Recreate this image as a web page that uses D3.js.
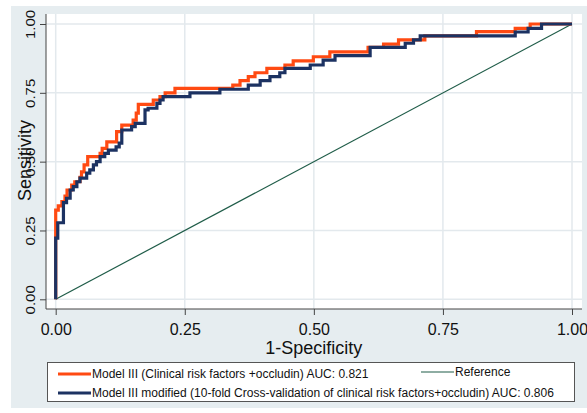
<!DOCTYPE html>
<html lang="en">
  <head>
    <meta charset="UTF-8" />
    <title>ROC curves</title>
    <script src="https://d3js.org/d3.v7.min.js"></script>
    <style>
      body {
        margin: 0;
        padding: 0;
        background-color: #ffffff;
        font-family: Arial, "Liberation Sans", sans-serif;
      }
    </style>
  </head>
  <body>
    <div id="chart"></div>
    <script>
      // -----------------------------
      // Data
      // -----------------------------
      const ticks = [0, 0.25, 0.5, 0.75, 1];

      // Model III: step tops (fpr, sensitivity)
      const orangeFpr = [0, 0, 0.005, 0.012, 0.018, 0.022, 0.031, 0.037, 0.047, 0.05, 0.055, 0.062, 0.086, 0.09, 0.099, 0.118, 0.128, 0.15, 0.156, 0.16, 0.189, 0.202, 0.212, 0.231, 0.343, 0.357, 0.373, 0.386, 0.409, 0.444, 0.46, 0.499, 0.531, 0.605, 0.635, 0.664, 0.715, 0.815, 0.89, 0.919, 1.0];
      const orangeSens = [0, 0.324, 0.339, 0.355, 0.375, 0.397, 0.415, 0.427, 0.443, 0.463, 0.488, 0.518, 0.53, 0.548, 0.572, 0.609, 0.633, 0.651, 0.676, 0.708, 0.724, 0.736, 0.75, 0.766, 0.778, 0.794, 0.809, 0.823, 0.839, 0.851, 0.866, 0.881, 0.899, 0.915, 0.927, 0.942, 0.957, 0.972, 0.984, 1.0, 1.0];

      // Model III modified (cross-validated)
      const navyFpr = [0, 0, 0.004, 0.015, 0.021, 0.028, 0.034, 0.041, 0.047, 0.06, 0.066, 0.073, 0.079, 0.086, 0.095, 0.102, 0.117, 0.123, 0.128, 0.147, 0.154, 0.173, 0.179, 0.196, 0.202, 0.208, 0.26, 0.318, 0.373, 0.396, 0.415, 0.434, 0.444, 0.493, 0.518, 0.541, 0.609, 0.677, 0.693, 0.706, 0.89, 0.915, 0.941, 1.0];
      const navySens = [0, 0.222, 0.278, 0.351, 0.367, 0.397, 0.409, 0.427, 0.44, 0.458, 0.47, 0.488, 0.5, 0.518, 0.53, 0.542, 0.554, 0.567, 0.615, 0.627, 0.639, 0.688, 0.694, 0.712, 0.724, 0.736, 0.75, 0.763, 0.778, 0.794, 0.809, 0.823, 0.839, 0.851, 0.869, 0.885, 0.915, 0.93, 0.942, 0.957, 0.971, 0.984, 1.0, 1.0];

      const refLine = [0, 1];

      const legendLabels = [
        "Model III (Clinical risk factors +occludin) AUC: 0.821",
        "Model III modified (10-fold Cross-validation of clinical risk factors+occludin) AUC: 0.806",
        "Reference",
      ];

      const orange = "#ff4a12";
      const navy = "#1c3262";
      const green = "#1f5c48";
      const panel = "#e6edf0";
      const grid = "#e3e9ed";

      // -----------------------------
      // SVG setup
      // -----------------------------
      const W = 587,
        H = 413;
      const svg = d3
        .select("#chart")
        .append("svg")
        .attr("width", W)
        .attr("height", H);

      // graph region + plot region
      svg.append("rect").attr("x", 11).attr("y", 6).attr("width", W - 11).attr("height", 402).attr("fill", panel);
      svg.append("rect").attr("x", 46).attr("y", 14).attr("width", 536).attr("height", 295).attr("fill", "#ffffff");

      const x = d3.scaleLinear().domain([0, 1]).range([55.7, 572]);
      const y = d3.scaleLinear().domain([0, 1]).range([299.3, 24]);

      // grid lines
      svg
        .append("g")
        .selectAll("line.vg")
        .data(ticks)
        .join("line")
        .attr("x1", (d) => x(d))
        .attr("x2", (d) => x(d))
        .attr("y1", 14)
        .attr("y2", 309)
        .attr("stroke", grid)
        .attr("stroke-width", 1.5);
      svg
        .append("g")
        .selectAll("line.hg")
        .data(ticks)
        .join("line")
        .attr("x1", 46)
        .attr("x2", 582)
        .attr("y1", (d) => y(d))
        .attr("y2", (d) => y(d))
        .attr("stroke", grid)
        .attr("stroke-width", 1.5);

      // axes
      const fmt = d3.format(".2f");
      const xAxis = svg
        .append("g")
        .attr("transform", "translate(0,309)")
        .call(d3.axisBottom(x).tickValues(ticks).tickFormat(fmt).tickSize(6).tickSizeOuter(0));
      xAxis.select(".domain").remove();
      xAxis.selectAll("line").attr("stroke", "#444");
      xAxis
        .selectAll("text")
        .attr("dy", null)
        .attr("y", 26)
        .attr("fill", "#111")
        .style("font-family", "Arial, 'Liberation Sans', sans-serif")
        .style("font-size", "16px");

      const yAxis = svg
        .append("g")
        .attr("transform", "translate(46,0)")
        .call(d3.axisLeft(y).tickValues(ticks).tickFormat(fmt).tickSize(6).tickSizeOuter(0));
      yAxis.select(".domain").remove();
      yAxis.selectAll("line").attr("stroke", "#444");
      yAxis
        .selectAll("text")
        .attr("x", null)
        .attr("dy", null)
        .attr("text-anchor", "middle")
        .attr("transform", "translate(-11,0) rotate(-90) scale(1,0.85)")
        .attr("fill", "#111")
        .style("font-family", "Arial, 'Liberation Sans', sans-serif")
        .style("font-size", "15px");

      svg.append("line").attr("x1", 46).attr("x2", 582).attr("y1", 309).attr("y2", 309).attr("stroke", "#444");
      svg.append("line").attr("x1", 46).attr("x2", 46).attr("y1", 14).attr("y2", 309).attr("stroke", "#444");

      // axis titles
      svg
        .append("text")
        .attr("x", (x(0) + x(1)) / 2)
        .attr("y", 354)
        .attr("text-anchor", "middle")
        .attr("fill", "#111")
        .style("font-size", "18px")
        .text("1-Specificity");
      svg
        .append("text")
        .attr("transform", "translate(30.5," + 160.5 + ") rotate(-90)")
        .attr("text-anchor", "middle")
        .attr("fill", "#111")
        .style("font-size", "18px")
        .text("Sensitivity");

      // -----------------------------
      // Curves
      // -----------------------------
      const plot = svg.append("g");

      plot
        .append("path")
        .datum(refLine)
        .attr("d", d3.line().x((d) => x(d)).y((d) => y(d)))
        .attr("fill", "none")
        .attr("stroke", green)
        .attr("stroke-width", 1.2);

      const step = d3
        .line()
        .curve(d3.curveStepAfter)
        .x((d) => x(d[0]))
        .y((d) => y(d[1]));

      plot
        .append("path")
        .datum(d3.zip(orangeFpr, orangeSens))
        .attr("d", step)
        .attr("fill", "none")
        .attr("stroke", orange)
        .attr("stroke-width", 3.2);

      plot
        .append("path")
        .datum(d3.zip(navyFpr, navySens))
        .attr("d", step)
        .attr("fill", "none")
        .attr("stroke", navy)
        .attr("stroke-width", 3.2);

      // -----------------------------
      // Legend
      // -----------------------------
      const lg = svg.append("g");
      lg.append("rect")
        .attr("x", 47.5)
        .attr("y", 362.5)
        .attr("width", 527)
        .attr("height", 39)
        .attr("fill", "#ffffff")
        .attr("stroke", "#555")
        .attr("stroke-width", 1);

      const items = [
        { label: legendLabels[0], color: orange, w: 3.2, x0: 58, ly: 374, ty: 378 },
        { label: legendLabels[1], color: navy, w: 3.2, x0: 58, ly: 393, ty: 397 },
        { label: legendLabels[2], color: green, w: 1.2, x0: 421, ly: 372, ty: 376 },
      ];
      items.forEach((it) => {
        lg.append("line")
          .attr("x1", it.x0)
          .attr("x2", it.x0 + 33)
          .attr("y1", it.ly)
          .attr("y2", it.ly)
          .attr("stroke", it.color)
          .attr("stroke-width", it.w);
        lg.append("text")
          .attr("x", it.x0 + 34)
          .attr("y", it.ty)
          .attr("fill", "#111")
          .style("font-size", "12px")
          .text(it.label);
      });
    </script>
  </body>
</html>
